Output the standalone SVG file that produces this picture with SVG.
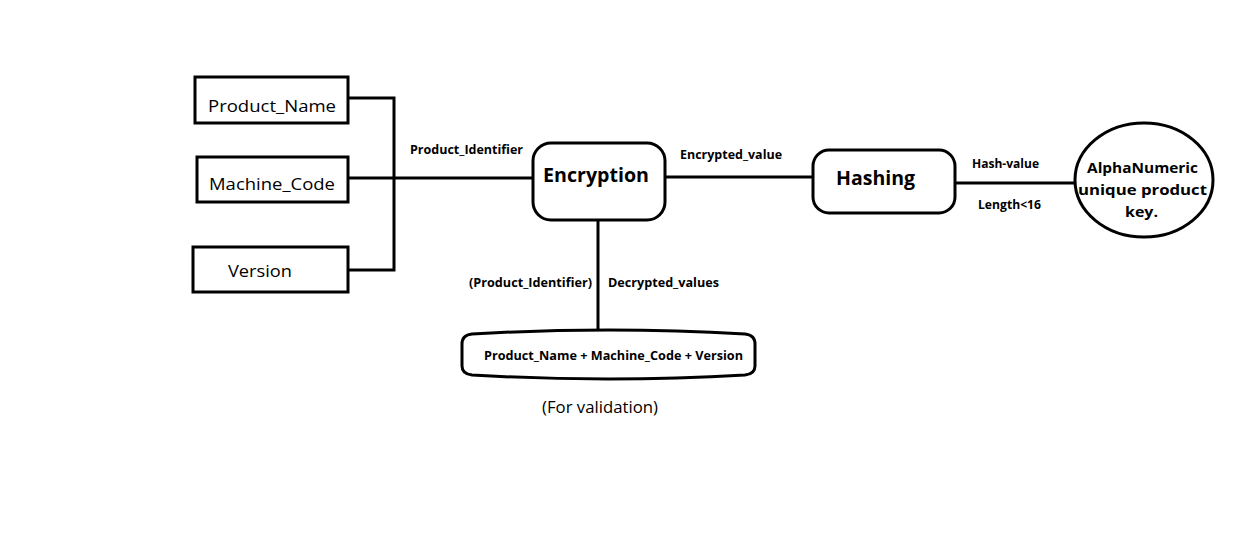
<svg xmlns="http://www.w3.org/2000/svg" width="1260" height="539" viewBox="0 0 1260 539">
<style>
.box{fill:#fff;stroke:#000;stroke-width:3}
.ln{fill:none;stroke:#000;stroke-width:3}
text{font-family:"Open Sans","Noto Sans",sans-serif;fill:#000}
.n{font-size:17px}
.b{font-weight:bold}
.s{font-size:12px;font-weight:bold}
.big{font-size:20px;font-weight:bold}
.el{font-size:15px;font-weight:bold}
</style>
<rect width="1260" height="539" fill="#fff"/>
<g id="connectors">
<polyline class="ln" points="348,98 394,98 394,270 348,270"/>
<line class="ln" x1="348" y1="178" x2="533" y2="178"/>
<line class="ln" x1="665" y1="177" x2="813" y2="177"/>
<line class="ln" x1="955" y1="183" x2="1075" y2="183"/>
<line class="ln" x1="598" y1="220" x2="598" y2="331"/>
<text class="s" x="410" y="154" textLength="113" lengthAdjust="spacingAndGlyphs">Product_Identifier</text>
<text class="s" x="680" y="159" textLength="102" lengthAdjust="spacingAndGlyphs">Encrypted_value</text>
<text class="s" x="972" y="168" textLength="67" lengthAdjust="spacingAndGlyphs">Hash-value</text>
<text class="s" x="978" y="209" textLength="63" lengthAdjust="spacingAndGlyphs">Length&lt;16</text>
<text class="s" x="469" y="287" textLength="123" lengthAdjust="spacingAndGlyphs">(Product_Identifier)</text>
<text class="s" x="608" y="287" textLength="111" lengthAdjust="spacingAndGlyphs">Decrypted_values</text>
</g>
<g id="product_name">
<rect class="box" x="195" y="77" width="153" height="46"/>
<text class="n" x="208" y="112" textLength="128" lengthAdjust="spacingAndGlyphs">Product_Name</text>
</g>
<g id="machine_code">
<rect class="box" x="197" y="157" width="151" height="45"/>
<text class="n" x="209" y="190" textLength="126" lengthAdjust="spacingAndGlyphs">Machine_Code</text>
</g>
<g id="version">
<rect class="box" x="193" y="247" width="155" height="45"/>
<text class="n" x="228" y="277" textLength="64" lengthAdjust="spacingAndGlyphs">Version</text>
</g>
<g id="encryption">
<rect class="box" x="533" y="143" width="132" height="77" rx="18" ry="18"/>
<text class="big" x="543" y="182" textLength="106" lengthAdjust="spacingAndGlyphs">Encryption</text>
</g>
<g id="hashing">
<rect class="box" x="813" y="150" width="142" height="63" rx="16" ry="16"/>
<text class="big" x="836" y="185" textLength="79" lengthAdjust="spacingAndGlyphs">Hashing</text>
</g>
<g id="product_key">
<ellipse class="box" cx="1144" cy="180" rx="69" ry="57"/>
<text class="el" x="1087" y="173" textLength="111" lengthAdjust="spacingAndGlyphs">AlphaNumeric</text>
<text class="el" x="1078" y="195" textLength="129" lengthAdjust="spacingAndGlyphs">unique product</text>
<text class="el" x="1125" y="217" textLength="33" lengthAdjust="spacingAndGlyphs">key.</text>
</g>
<g id="validation_store">
<path class="box" d="M472,334 Q608,326 745,334 Q755,335 755,344 L755,366 Q755,374 745,375 Q608,383 472,375 Q462,374 462,366 L462,344 Q462,335 472,334 Z"/>
<text class="s" x="484" y="360" textLength="259" lengthAdjust="spacingAndGlyphs">Product_Name + Machine_Code + Version</text>
<text class="n" x="542" y="413" font-size="16" textLength="116" lengthAdjust="spacingAndGlyphs">(For validation)</text>
</g>
</svg>
